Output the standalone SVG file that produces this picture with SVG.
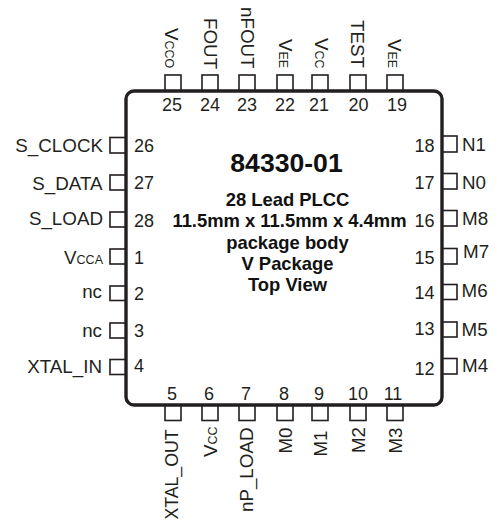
<svg xmlns="http://www.w3.org/2000/svg" width="500" height="521" viewBox="0 0 500 521">
<style>
text{font-family:"Liberation Sans",Arial,sans-serif;fill:#231f20;font-size:18px}
.l{font-size:18.8px}
.x{font-size:17.7px}
.s{font-size:12.5px}
.e{text-anchor:end}
.m{text-anchor:middle}
.b{font-weight:bold;font-size:18.4px;text-anchor:middle;fill:#111}
.t{font-weight:bold;font-size:26.6px;text-anchor:middle;fill:#111}
.p{fill:#fff;stroke:#231f20;stroke-width:1.6}
.body{fill:#fff;stroke:#231f20;stroke-width:3.4}
</style>
<rect width="500" height="521" fill="#fff"/>
<g id="pins">
<rect class="p" x="165" y="75" width="16" height="16"/>
<rect class="p" x="202" y="75" width="16" height="16"/>
<rect class="p" x="239" y="75" width="16" height="16"/>
<rect class="p" x="277" y="75" width="16" height="16"/>
<rect class="p" x="312" y="75" width="16" height="16"/>
<rect class="p" x="350" y="75" width="16" height="16"/>
<rect class="p" x="387" y="75" width="16" height="16"/>
<rect class="p" x="165" y="404" width="16" height="16.500"/>
<rect class="p" x="202" y="404" width="16" height="16.500"/>
<rect class="p" x="239" y="404" width="16" height="16.500"/>
<rect class="p" x="277" y="404" width="16" height="16.500"/>
<rect class="p" x="312" y="404" width="16" height="16.500"/>
<rect class="p" x="350" y="404" width="16" height="16.500"/>
<rect class="p" x="387" y="404" width="16" height="16.500"/>
<rect class="p" x="110" y="137.500" width="17" height="15.500"/>
<rect class="p" x="110" y="175" width="17" height="15"/>
<rect class="p" x="110" y="212" width="17" height="15"/>
<rect class="p" x="110" y="249" width="17" height="15"/>
<rect class="p" x="110" y="286" width="17" height="14.500"/>
<rect class="p" x="110" y="323" width="17" height="15"/>
<rect class="p" x="110" y="359.500" width="17" height="15"/>
<rect class="p" x="441" y="136" width="16" height="16"/>
<rect class="p" x="441" y="173.500" width="16" height="15.500"/>
<rect class="p" x="441" y="210.500" width="16" height="15.500"/>
<rect class="p" x="441" y="248.500" width="16" height="15.500"/>
<rect class="p" x="441" y="284.500" width="16" height="15"/>
<rect class="p" x="441" y="322" width="16" height="15"/>
<rect class="p" x="441" y="358.500" width="16" height="15.500"/>
</g>
<g id="package">
<rect class="body" x="126" y="91" width="316" height="314" rx="8" ry="8"/>
<text class="t" x="286.500" y="172">84330-01</text>
<text class="b" x="287.500" y="205.500">28 Lead PLCC</text>
<text class="b" x="289.500" y="227">11.5mm x 11.5mm x 4.4mm</text>
<text class="b" x="287.500" y="249">package body</text>
<text class="b" x="287.500" y="270">V Package</text>
<text class="b" x="287.500" y="290.500">Top View</text>
</g>
<g id="pin-numbers">
<text class="m" x="172" y="110.500">25</text>
<text class="m" x="210" y="110.500">24</text>
<text class="m" x="247" y="110.500">23</text>
<text class="m" x="285" y="110.500">22</text>
<text class="m" x="319" y="110.500">21</text>
<text class="m" x="358.500" y="110.500">20</text>
<text class="m" x="397" y="110.500">19</text>
<text class="m" x="172" y="400">5</text>
<text class="m" x="209" y="400">6</text>
<text class="m" x="246" y="400">7</text>
<text class="m" x="284" y="400">8</text>
<text class="m" x="319" y="400">9</text>
<text class="m" x="358" y="400">10</text>
<text class="m" x="393" y="400">11</text>
<text x="134" y="151.500">26</text>
<text x="134" y="189">27</text>
<text x="134" y="226.500">28</text>
<text x="134" y="264">1</text>
<text x="134" y="300">2</text>
<text x="134" y="337">3</text>
<text x="134" y="372">4</text>
<text class="e" x="434.500" y="152">18</text>
<text class="e" x="434.500" y="189">17</text>
<text class="e" x="434.500" y="226.500">16</text>
<text class="e" x="434.500" y="264">15</text>
<text class="e" x="434.500" y="299">14</text>
<text class="e" x="434.500" y="335">13</text>
<text class="e" x="434.500" y="375">12</text>
</g>
<g id="labels-left">
<text class="e l" x="103" y="151.500">S_CLOCK</text>
<text class="e l" x="102.500" y="190">S_DATA</text>
<text class="e l" x="103" y="225">S_LOAD</text>
<text class="e l" x="103" y="264">V<tspan class="s">CCA</tspan></text>
<text class="e l" x="102" y="298">nc</text>
<text class="e l" x="102" y="336.500">nc</text>
<text class="e l" x="102" y="372.500">XTAL_IN</text>
</g>
<g id="labels-right">
<text class="l" x="462" y="151">N1</text>
<text class="l" x="462" y="189">N0</text>
<text class="l" x="462" y="225">M8</text>
<text class="l" x="463" y="258">M7</text>
<text class="l" x="461.500" y="296.500">M6</text>
<text class="l" x="461.500" y="336">M5</text>
<text class="l" x="462" y="372">M4</text>
</g>
<g id="labels-top">
<text class="l" transform="translate(165,28) rotate(90)">V<tspan class="s">CCO</tspan></text>
<text class="l" transform="translate(204,18) rotate(90)">FOUT</text>
<text class="l" transform="translate(241,7) rotate(90)">nFOUT</text>
<text class="l" transform="translate(279,39) rotate(90)">V<tspan class="s">EE</tspan></text>
<text class="l" transform="translate(315,38) rotate(90)">V<tspan class="s">CC</tspan></text>
<text class="l" transform="translate(350.500,20) rotate(90)">TEST</text>
<text class="l" transform="translate(388,39) rotate(90)">V<tspan class="s">EE</tspan></text>
</g>
<g id="labels-bottom">
<text class="e x" transform="translate(178,429.500) rotate(-90)">XTAL_OUT</text>
<text class="e l" transform="translate(216.500,426.500) rotate(-90)">V<tspan class="s">CC</tspan></text>
<text class="e l" transform="translate(253,427.500) rotate(-90)">nP_LOAD</text>
<text class="e l" transform="translate(291.500,427.500) rotate(-90)">M0</text>
<text class="e l" transform="translate(327,430.500) rotate(-90)">M1</text>
<text class="e l" transform="translate(365,427) rotate(-90)">M2</text>
<text class="e l" transform="translate(401.500,427.500) rotate(-90)">M3</text>
</g>
</svg>
